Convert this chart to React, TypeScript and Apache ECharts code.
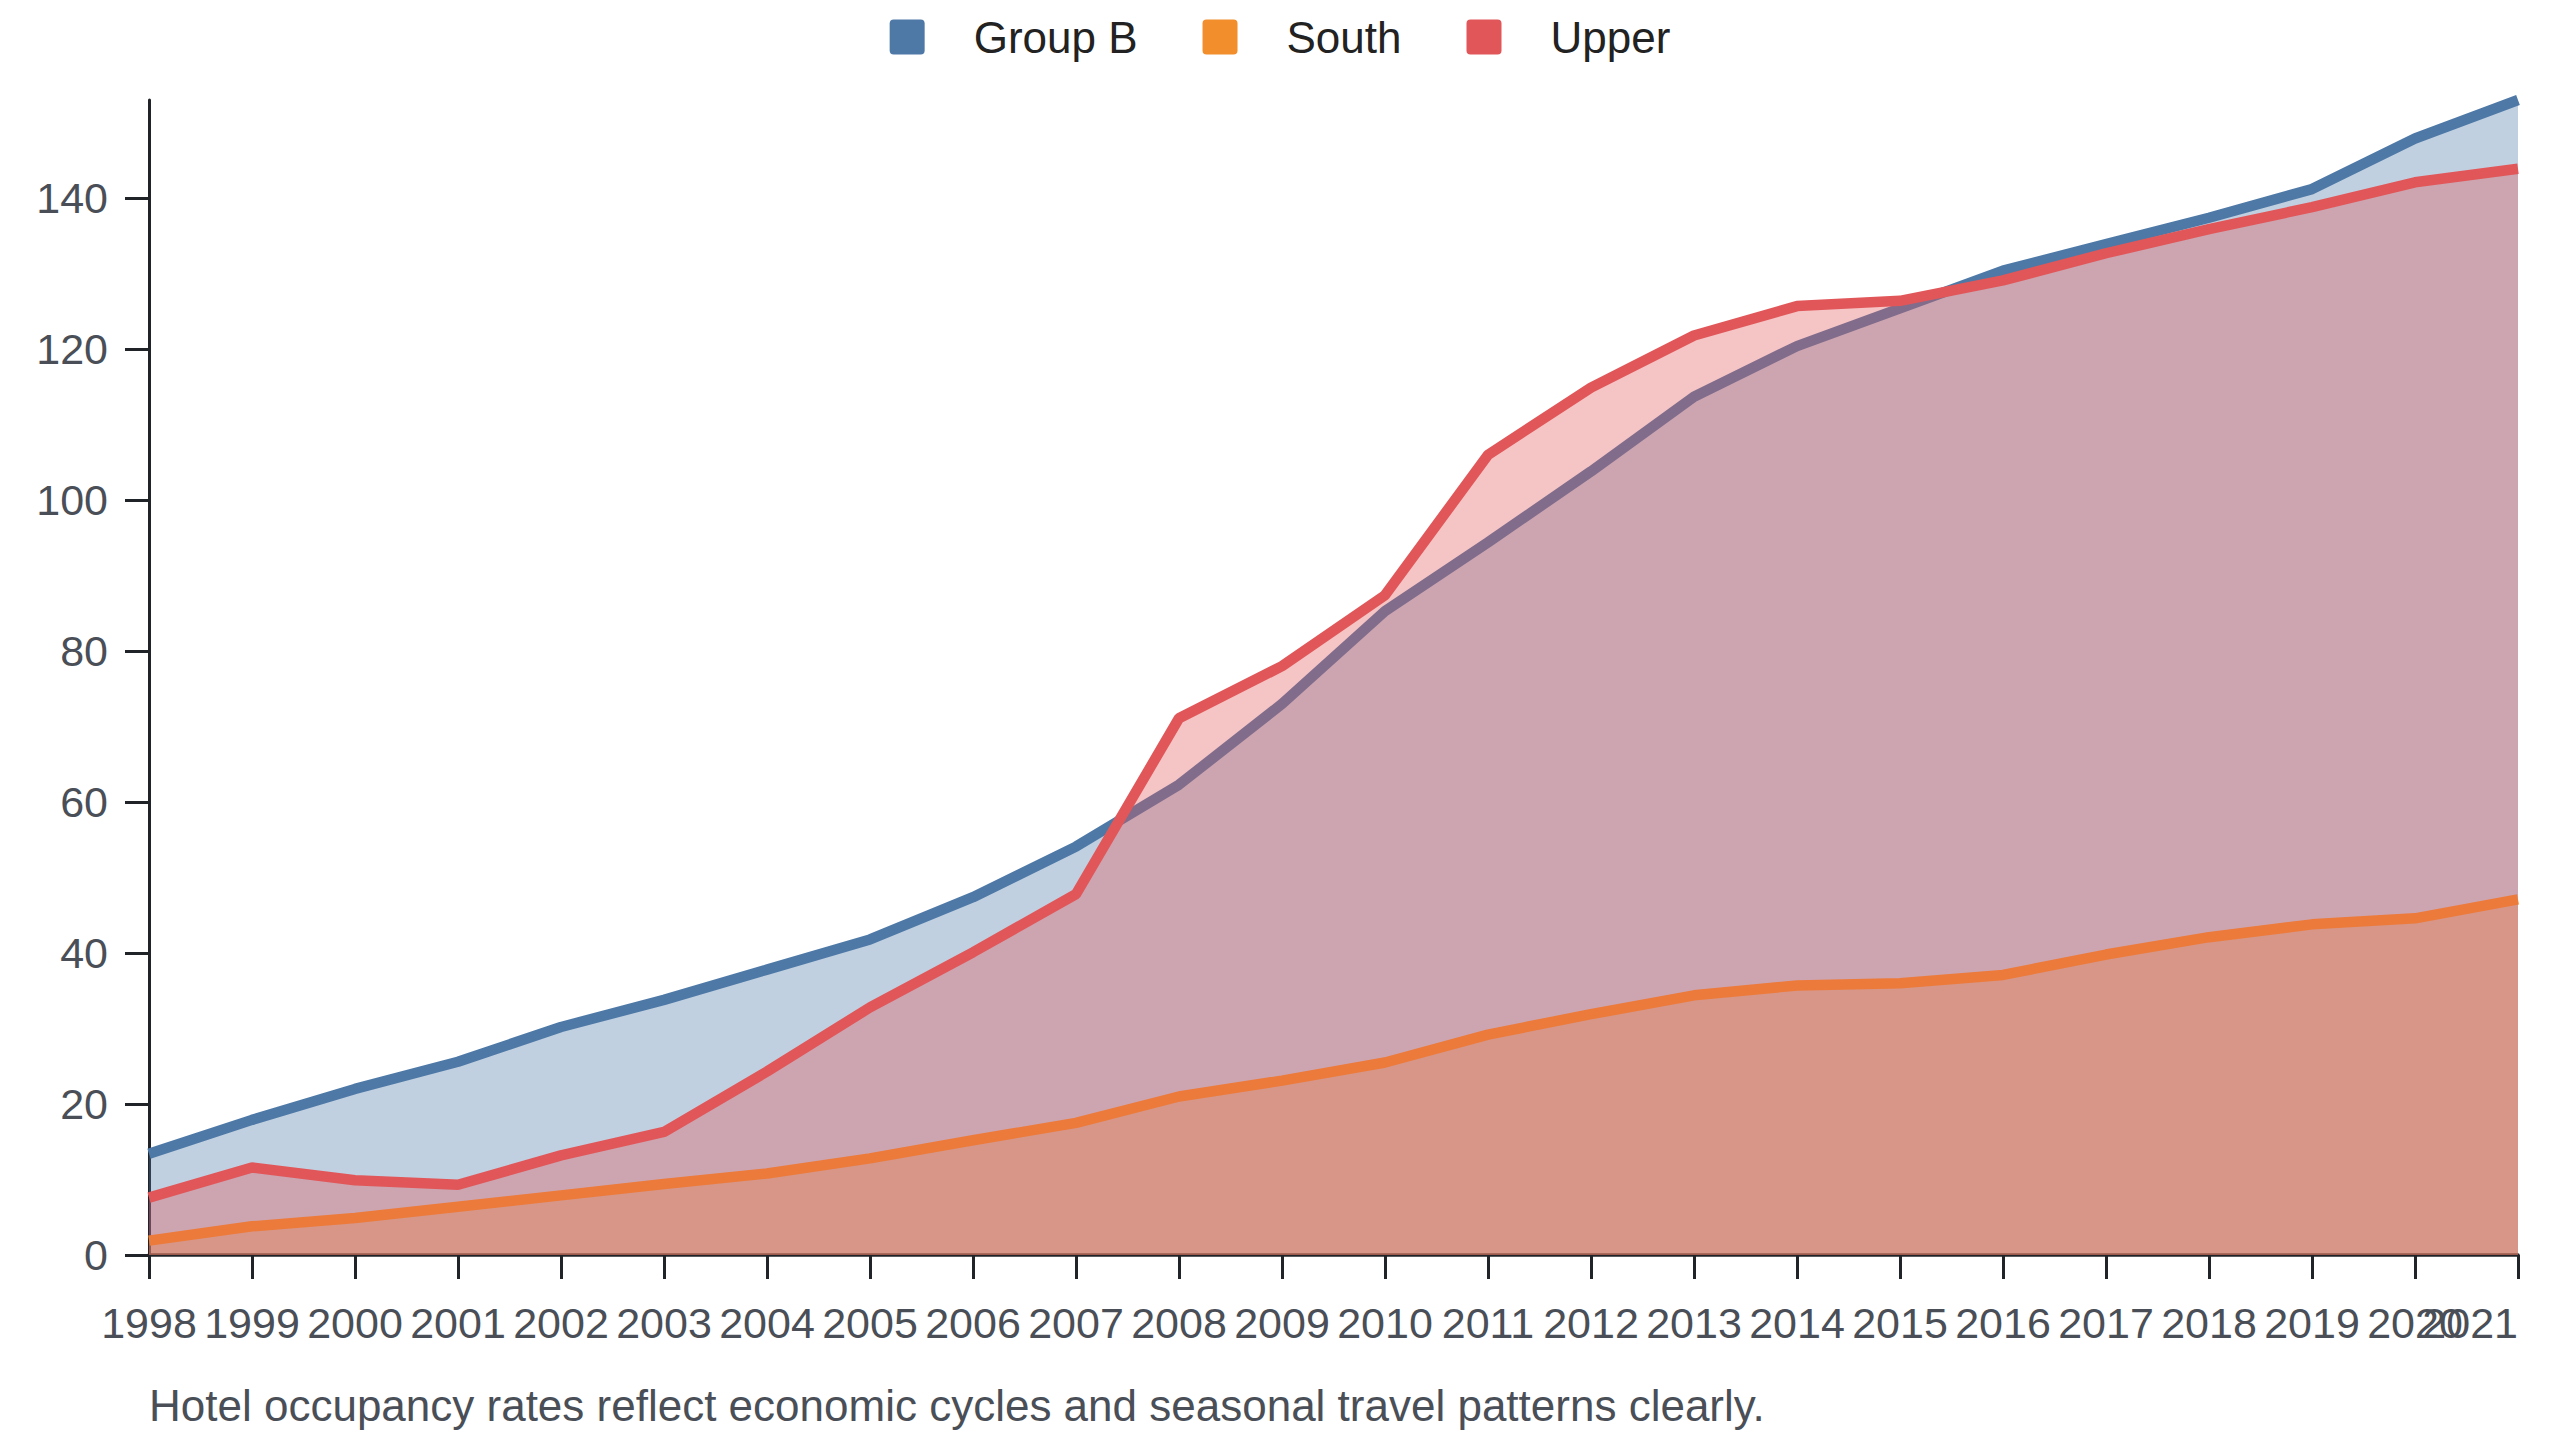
import { useEffect, useRef } from "react";
import * as echarts from "echarts";

const years = [
  "1998", "1999", "2000", "2001", "2002", "2003", "2004", "2005", "2006", "2007", "2008", "2009",
  "2010", "2011", "2012", "2013", "2014", "2015", "2016", "2017", "2018", "2019", "2020", "2021",
];

const groupB = [
  13.4, 17.9, 22.0, 25.6, 30.2, 33.8, 37.8, 41.8, 47.4, 54.1, 62.3, 73.0,
  85.3, 94.4, 103.8, 113.7, 120.4, 125.4, 130.4, 133.9, 137.4, 141.2, 147.9, 153.0,
];

const south = [
  1.9, 3.8, 4.9, 6.4, 7.9, 9.4, 10.8, 12.8, 15.2, 17.5, 21.0, 23.1,
  25.5, 29.2, 31.9, 34.4, 35.7, 36.0, 37.1, 39.8, 42.1, 43.8, 44.6, 47.1,
];

const upper = [
  7.6, 11.6, 9.9, 9.3, 13.2, 16.3, 24.3, 32.8, 40.1, 47.8, 71.1, 78.0,
  87.4, 106.0, 114.9, 121.8, 125.7, 126.4, 129.1, 132.7, 135.9, 138.8, 142.1, 143.9,
];

const yTicks = [0, 20, 40, 60, 80, 100, 120, 140];

const caption = "Hotel occupancy rates reflect economic cycles and seasonal travel patterns clearly.";

const FONT = "'Liberation Sans', Arial, Helvetica, sans-serif";
const LABEL = "#4a4f57";
const AXIS = "#202328";
// square with slightly rounded corners for the legend
const SQUARE = "path://M4,0H31Q35,0 35,4V31Q35,35 31,35H4Q0,35 0,31V4Q0,0 4,0Z";

export default function App() {
  const chartRef = useRef<HTMLDivElement | null>(null);

  useEffect(() => {
    document.body.style.margin = "0";
    if (!chartRef.current) return;
    const chart = echarts.init(chartRef.current, undefined, { renderer: "svg" });

    const mk = (name: string, data: number[], color: string, z: number) => ({
      name,
      type: "line",
      data,
      z,
      color,
      symbol: "none",
      showSymbol: false,
      lineStyle: { width: 10.5, color },
      areaStyle: { color, opacity: 0.35 },
    });

    chart.setOption({
      animation: false,
      textStyle: { fontFamily: FONT },
      legend: {
        top: 10,
        left: "center",
        icon: SQUARE,
        itemWidth: 35,
        itemHeight: 35,
        itemGap: 65,
        textStyle: { fontSize: 44, color: "#222", fontFamily: FONT, padding: [0, 0, 0, 44] },
        data: ["Group B", "South", "Upper"],
      },
      grid: { left: 149, right: 42, top: 100, bottom: 185 },
      xAxis: {
        type: "category",
        data: years,
        boundaryGap: false,
        axisLine: { lineStyle: { color: AXIS, width: 3.5 } },
        axisTick: { length: 24, lineStyle: { color: AXIS, width: 3 } },
        axisLabel: {
          interval: 0,
          fontSize: 43,
          color: LABEL,
          margin: 46,
          alignMaxLabel: "right",
          fontFamily: FONT,
        },
        splitLine: { show: false },
      },
      yAxis: {
        type: "value",
        min: 0,
        max: "dataMax",
        axisLine: { show: true, lineStyle: { color: AXIS, width: 3 } },
        axisTick: { show: true, length: 24, lineStyle: { color: AXIS, width: 3 }, customValues: yTicks },
        axisLabel: { fontSize: 43, color: LABEL, margin: 41, fontFamily: FONT, customValues: yTicks },
        splitLine: { show: false },
      },
      graphic: [
        {
          type: "text",
          left: 149,
          top: 1383,
          style: { text: caption, font: `44px ${FONT}`, fill: LABEL },
        },
      ],
      series: [
        mk("Group B", groupB, "#4e79a7", 2),
        mk("South", south, "#f28e2b", 3),
        mk("Upper", upper, "#e15759", 4),
      ],
    });

    return () => {
      chart.dispose();
    };
  }, []);

  return <div ref={chartRef} style={{ width: 2560, height: 1440 }} />;
}
